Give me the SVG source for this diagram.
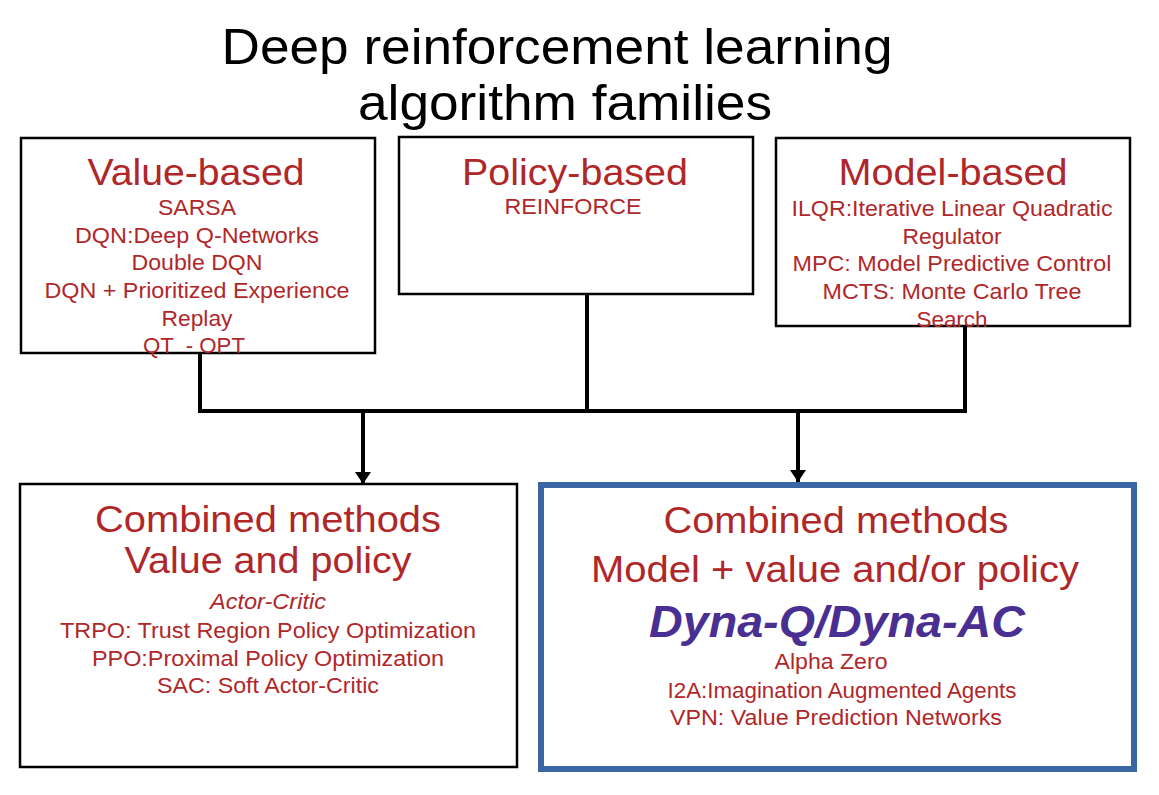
<svg xmlns="http://www.w3.org/2000/svg" width="1159" height="795" viewBox="0 0 1159 795">
<style>
text{font-family:"Liberation Sans",Arial,sans-serif;text-anchor:middle;fill:#b0272a}
.title{font-size:50px;fill:#000}
.h{font-size:37px}
.s{font-size:22px}
.box{fill:#fff;stroke:#000;stroke-width:2.5}
.blue{fill:#fff;stroke:#3a66a3;stroke-width:6}
.con{fill:none;stroke:#000;stroke-width:4}
.dyna{font-size:44px;font-weight:bold;font-style:italic;fill:#4a2f92}
</style>
<defs>
<marker id="arr" viewBox="0 0 12 16" refX="12" refY="8" markerWidth="12" markerHeight="16" markerUnits="userSpaceOnUse" orient="auto">
<path d="M0,0 L12,8 L0,16 Z" fill="#000"/>
</marker>
</defs>
<rect width="1159" height="795" fill="#fff"/>
<g id="title">
<text class="title" x="557" y="64" textLength="671" lengthAdjust="spacingAndGlyphs">Deep reinforcement learning</text>
<text class="title" x="565" y="120" textLength="414" lengthAdjust="spacingAndGlyphs">algorithm families</text>
</g>
<g id="connectors">
<path class="con" d="M200,353 V411 M587,294 V411 M965,326 V411 M198,411 H967"/>
<path class="con" d="M363,411 V484" marker-end="url(#arr)"/>
<path class="con" d="M798,411 V482" marker-end="url(#arr)"/>
</g>
<g id="value-based">
<rect class="box" x="21" y="138" width="354" height="215"/>
<text class="h" x="196" y="185" textLength="217" lengthAdjust="spacingAndGlyphs">Value-based</text>
<text class="s" x="197" y="215" textLength="78" lengthAdjust="spacingAndGlyphs">SARSA</text>
<text class="s" x="197" y="243" textLength="244" lengthAdjust="spacingAndGlyphs">DQN:Deep Q-Networks</text>
<text class="s" x="197" y="270" textLength="131" lengthAdjust="spacingAndGlyphs">Double DQN</text>
<text class="s" x="197" y="298" textLength="305" lengthAdjust="spacingAndGlyphs">DQN + Prioritized Experience</text>
<text class="s" x="197" y="326" textLength="71" lengthAdjust="spacingAndGlyphs">Replay</text>
<text class="s" x="194" y="353" textLength="102" lengthAdjust="spacingAndGlyphs" xml:space="preserve">QT  - OPT</text>
</g>
<g id="policy-based">
<rect class="box" x="399" y="137" width="354" height="157"/>
<text class="h" x="575" y="185" textLength="226" lengthAdjust="spacingAndGlyphs">Policy-based</text>
<text class="s" x="573" y="214" textLength="137" lengthAdjust="spacingAndGlyphs">REINFORCE</text>
</g>
<g id="model-based">
<rect class="box" x="776" y="138" width="354" height="188"/>
<text class="h" x="953" y="185" textLength="229" lengthAdjust="spacingAndGlyphs">Model-based</text>
<text class="s" x="952" y="216" textLength="321" lengthAdjust="spacingAndGlyphs">ILQR:Iterative Linear Quadratic</text>
<text class="s" x="952" y="244" textLength="99" lengthAdjust="spacingAndGlyphs">Regulator</text>
<text class="s" x="952" y="271" textLength="319" lengthAdjust="spacingAndGlyphs">MPC: Model Predictive Control</text>
<text class="s" x="952" y="299" textLength="259" lengthAdjust="spacingAndGlyphs">MCTS: Monte Carlo Tree</text>
<text class="s" x="952" y="327" textLength="71" lengthAdjust="spacingAndGlyphs">Search</text>
</g>
<g id="combined-value-policy">
<rect class="box" x="20" y="484" width="497" height="283"/>
<text class="h" x="268" y="532" textLength="346" lengthAdjust="spacingAndGlyphs">Combined methods</text>
<text class="h" x="268" y="573" textLength="287" lengthAdjust="spacingAndGlyphs">Value and policy</text>
<text class="s" x="268" y="609" font-style="italic" textLength="116" lengthAdjust="spacingAndGlyphs">Actor-Critic</text>
<text class="s" x="268" y="638" textLength="416" lengthAdjust="spacingAndGlyphs">TRPO: Trust Region Policy Optimization</text>
<text class="s" x="268" y="666" textLength="352" lengthAdjust="spacingAndGlyphs">PPO:Proximal Policy Optimization</text>
<text class="s" x="268" y="693" textLength="222" lengthAdjust="spacingAndGlyphs">SAC: Soft Actor-Critic</text>
</g>
<g id="combined-model">
<rect class="blue" x="541" y="485" width="593" height="284"/>
<text class="h" x="836" y="533" textLength="345" lengthAdjust="spacingAndGlyphs">Combined methods</text>
<text class="h" x="835" y="582" textLength="488" lengthAdjust="spacingAndGlyphs">Model + value and/or policy</text>
<text class="dyna" x="837" y="637" textLength="376" lengthAdjust="spacingAndGlyphs">Dyna-Q/Dyna-AC</text>
<text class="s" x="831" y="669" textLength="113" lengthAdjust="spacingAndGlyphs">Alpha Zero</text>
<text class="s" x="842" y="698" textLength="349" lengthAdjust="spacingAndGlyphs">I2A:Imagination Augmented Agents</text>
<text class="s" x="836" y="725" textLength="332" lengthAdjust="spacingAndGlyphs">VPN: Value Prediction Networks</text>
</g>
</svg>
